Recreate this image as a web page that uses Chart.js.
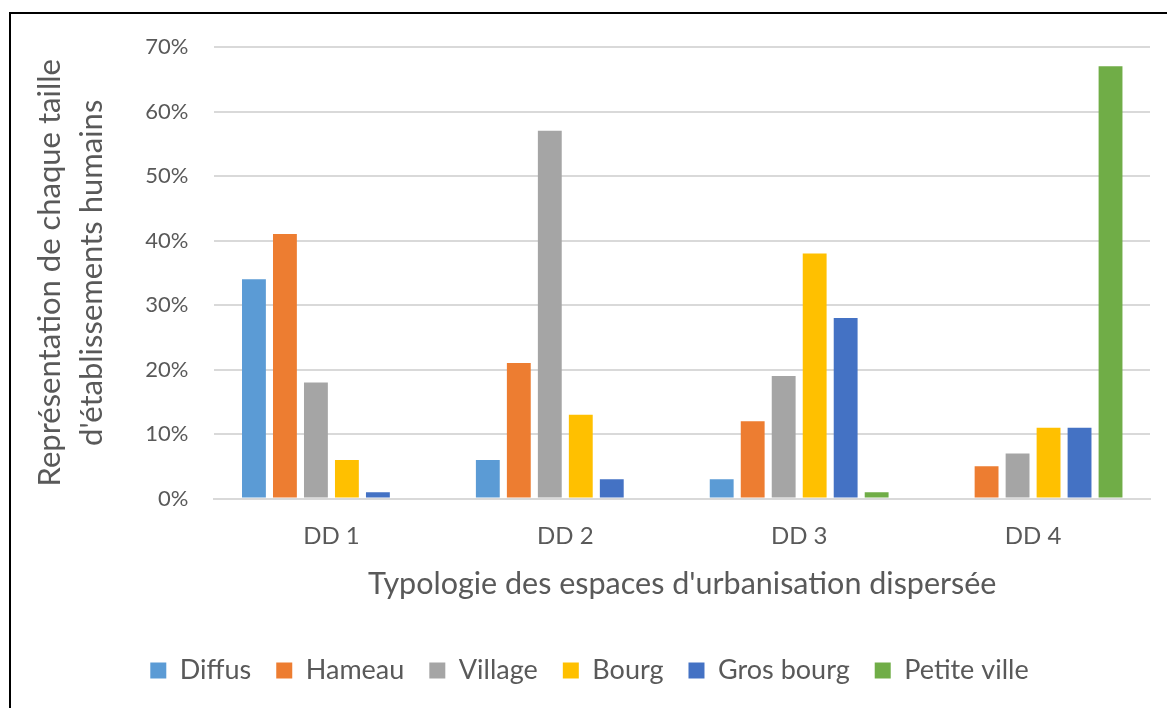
<!DOCTYPE html>
<html>
<head>
<meta charset="utf-8">
<script src="https://cdn.jsdelivr.net/npm/chart.js@4"></script>
<style>
  html, body { margin: 0; padding: 0; background: #ffffff; overflow: hidden; }
  #wrap { position: absolute; left: 0; top: 0; width: 1167px; height: 708px; }
  #frame { position: absolute; left: 9px; top: 12px; width: 1200px; height: 760px; border: 2px solid #000; pointer-events: none; }
</style>
</head>
<body>
<div id="wrap"><canvas id="chart" width="1167" height="708"></canvas></div>
<div id="frame"></div>
<script>
// Catégories et séries (en %)
const CATEGORIES = ['DD 1', 'DD 2', 'DD 3', 'DD 4'];
const SERIES_NAMES = ['Diffus', 'Hameau', 'Village', 'Bourg', 'Gros bourg', 'Petite ville'];
const DIFFUS      = [34, 6, 3, 0];
const HAMEAU      = [41, 21, 12, 5];
const VILLAGE     = [18, 57, 19, 7];
const BOURG       = [6, 13, 38, 11];
const GROS_BOURG  = [1, 3, 28, 11];
const PETITE_VILLE = [0, 0, 1, 67];
const Y_TICKS = [0, 10, 20, 30, 40, 50, 60, 70];

const COLORS = ['#5B9BD5', '#ED7D31', '#A5A5A5', '#FFC000', '#4472C4', '#70AD47'];
const TEXT = '#595959';
const FONT = 'Lato';

const values = [DIFFUS, HAMEAU, VILLAGE, BOURG, GROS_BOURG, PETITE_VILLE];

new Chart(document.getElementById('chart'), {
  type: 'bar',
  data: {
    labels: CATEGORIES,
    datasets: SERIES_NAMES.map((name, i) => ({
      label: name,
      data: values[i],
      backgroundColor: COLORS[i],
      categoryPercentage: 0.795,
      barPercentage: 0.77
    }))
  },
  options: {
    responsive: false,
    animation: false,
    layout: { padding: { left: 29, right: 17, top: 47, bottom: 14 } },
    plugins: {
      tooltip: { enabled: false },
      legend: {
        position: 'bottom',
        labels: {
          boxWidth: 16,
          boxHeight: 16,
          padding: 25,
          color: TEXT,
          font: { family: FONT, size: 27 }
        }
      }
    },
    scales: {
      x: {
        grid: { display: false },
        border: { color: '#D9D9D9', width: 2 },
        ticks: { color: TEXT, font: { family: FONT, size: 24 }, padding: 15 },
        title: {
          display: true,
          text: "Typologie des espaces d'urbanisation dispersée",
          color: TEXT,
          font: { family: FONT, size: 30.5 },
          padding: { top: 0, bottom: 30 }
        }
      },
      y: {
        min: 0,
        max: 70,
        afterBuildTicks: axis => { axis.ticks = Y_TICKS.map(v => ({ value: v })); },
        grid: { color: '#D9D9D9', lineWidth: 2, drawTicks: false },
        border: { display: false },
        ticks: {
          color: TEXT,
          font: { family: FONT, size: 22 },
          padding: 26,
          callback: v => v + '%'
        },
        title: {
          display: true,
          text: ['Représentation de chaque taille', "d'établissements humains"],
          color: TEXT,
          font: { family: FONT, size: 31, lineHeight: 1.36 },
          padding: { top: 0, bottom: 6 }
        }
      }
    }
  }
});
</script>
</body>
</html>
